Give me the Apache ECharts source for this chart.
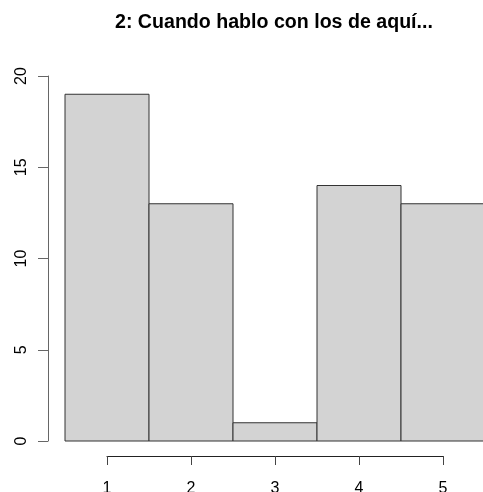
<!DOCTYPE html>
<html>
<head>
<meta charset="utf-8">
<script src="https://cdn.jsdelivr.net/npm/echarts@6/dist/echarts.min.js"></script>
<style>
html,body{margin:0;padding:0;background:#fff;}
#chart{width:483px;height:492px;}
</style>
</head>
<body>
<div id="chart"></div>
<script>
var titleText = '2: Cuando hablo con los de aquí...';
var categories = [1, 2, 3, 4, 5];
var counts = [19, 13, 1, 14, 13];
var yMin = 0, yMax = 20, yStep = 5;

var data = categories.map(function (c, i) { return [c, counts[i]]; });
var FONT = '"Liberation Sans", Arial, sans-serif';

var chart = echarts.init(document.getElementById('chart'), null, {renderer: 'canvas'});
chart.setOption({
  animation: false,
  backgroundColor: '#ffffff',
  title: {
    text: titleText,
    left: 115,
    top: 13,
    padding: 0,
    textStyle: {fontFamily: FONT, fontSize: 19.6, fontWeight: 'bold', color: '#000'}
  },
  grid: [
    {left: 48, width: 435, top: 76, height: 365, outerBoundsMode: 'none', containLabel: false},
    {left: 107, width: 336, top: 440, height: 16, outerBoundsMode: 'none', containLabel: false}
  ],
  xAxis: [
    {gridIndex: 0, type: 'value', min: 0.2976, max: 5.476, show: false},
    {gridIndex: 1, type: 'value', min: 1, max: 5, interval: 1, position: 'bottom',
     axisLine: {show: true, onZero: false, lineStyle: {color: '#222', width: 1}},
     axisTick: {show: true, length: 9, lineStyle: {color: '#444', width: 1}},
     splitLine: {show: false},
     axisLabel: {margin: 24.5, fontSize: 16, fontFamily: FONT, color: '#000'}}
  ],
  yAxis: [
    {gridIndex: 0, type: 'value', min: yMin, max: yMax, interval: yStep,
     axisLine: {show: true, lineStyle: {color: '#666', width: 1}},
     axisTick: {show: true, length: 10, lineStyle: {color: '#666', width: 1}},
     splitLine: {show: false},
     axisLabel: {rotate: 90, margin: 18, fontSize: 16, fontFamily: FONT, color: '#000'}},
    {gridIndex: 1, type: 'value', min: 0, max: 1, show: false}
  ],
  series: [{
    type: 'custom',
    xAxisIndex: 0,
    yAxisIndex: 0,
    clip: false,
    data: data,
    renderItem: function (params, api) {
      var x = api.value(0), v = api.value(1);
      var p0 = api.coord([x - 0.5, v]);
      var p1 = api.coord([x + 0.5, 0]);
      return {
        type: 'rect',
        shape: {x: p0[0], y: p0[1], width: p1[0] - p0[0], height: p1[1] - p0[1]},
        style: {fill: '#d3d3d3', stroke: '#333', lineWidth: 1}
      };
    }
  }]
});
</script>
</body>
</html>
